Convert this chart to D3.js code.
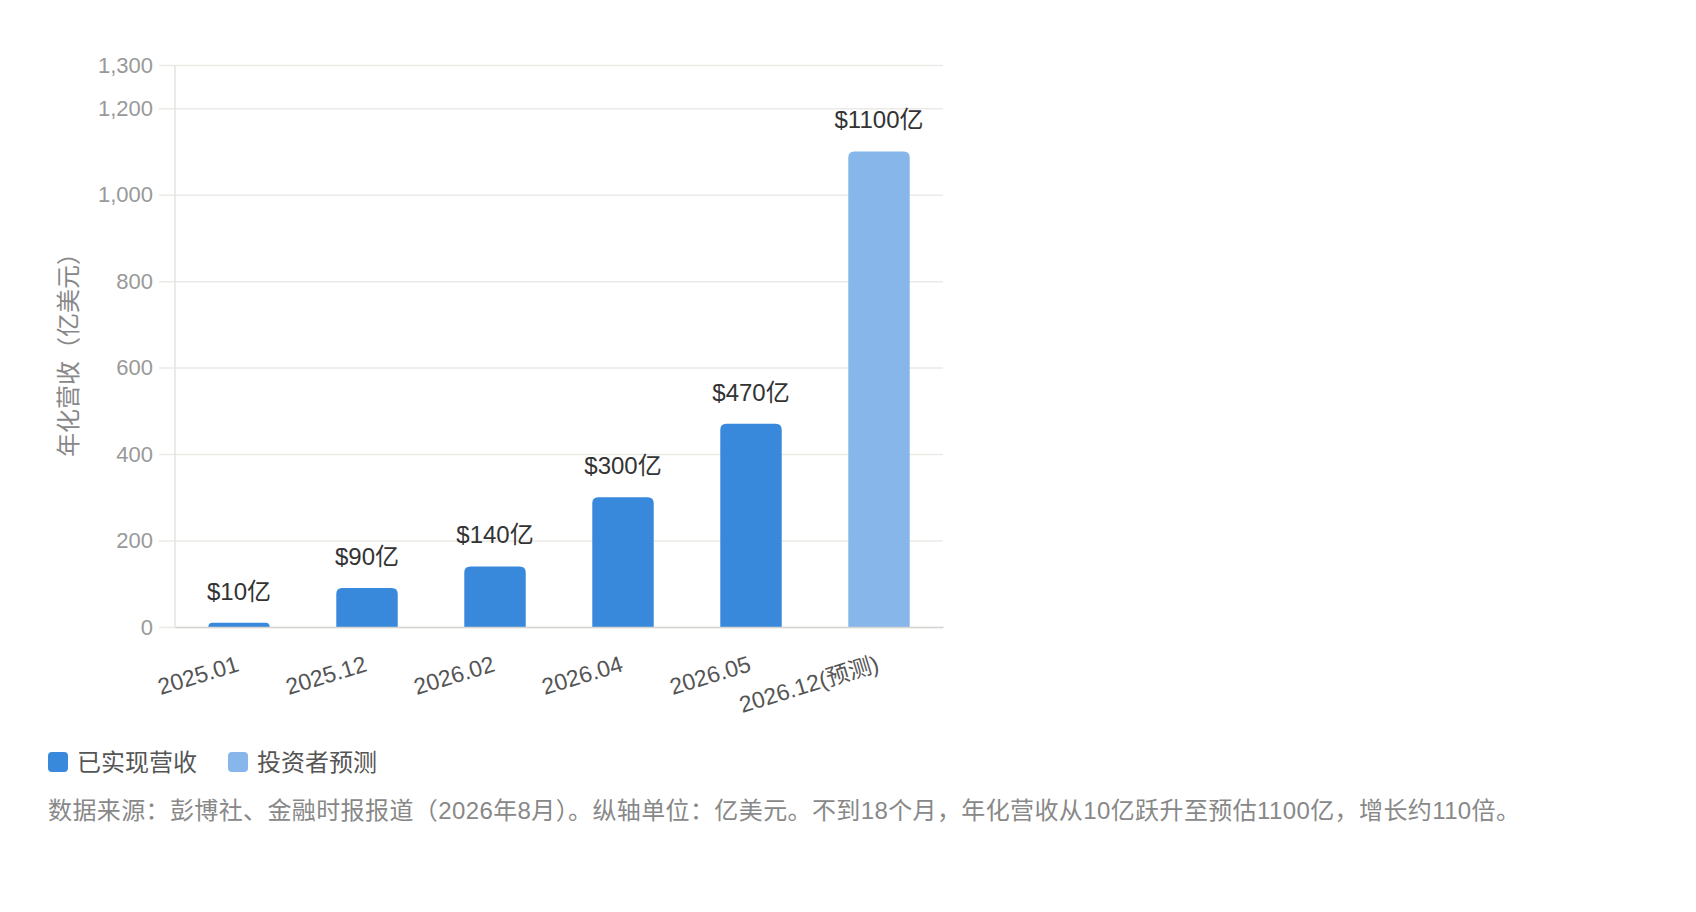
<!DOCTYPE html>
<html>
<head>
<meta charset="utf-8">
<script src="https://cdn.jsdelivr.net/npm/d3@7"></script>
<style>
  html, body { margin: 0; padding: 0; background: #fff; }
  svg text { font-family: "Liberation Sans", Arial, "Noto Sans CJK SC", sans-serif; }
  .cjk { font-family: "Liberation Sans", "Noto Sans CJK SC", sans-serif; }
</style>
</head>
<body>
<svg id="chart" width="1696" height="912"></svg>
<script>
    "use strict";

    // data
    var categories = ["2025.01", "2025.12", "2026.02", "2026.04", "2026.05", "2026.12(预测)"];
    var revenue = [10, 90, 140, 300, 470, 1100];
    var seriesOf = [0, 0, 0, 0, 0, 1];
    var seriesNames = ["已实现营收", "投资者预测"];
    var seriesColors = ["#3889dc", "#86b6ea"];
    var yTicks = [0, 200, 400, 600, 800, 1000, 1200, 1300];
    var yTitle = "年化营收（亿美元）";
    var note = "数据来源：彭博社、金融时报报道（2026年8月）。纵轴单位：亿美元。不到18个月，年化营收从10亿跃升至预估1100亿，增长约110倍。";

    var plotLeft = 175, plotRight = 943, plotTop = 65, plotBottom = 627;

    var svg = d3.select("#chart");

    var x = d3.scaleBand()
        .domain(categories)
        .range([plotLeft, plotRight])
        .paddingInner(0.52)
        .paddingOuter(0.26);

    var y = d3.scaleLinear()
        .domain([0, 1300])
        .range([plotBottom, plotTop]);

    // grid + y ticks (lines run from the tick stub at 159 to the right edge)
    var yAxis = svg.append("g")
        .attr("transform", "translate(" + plotRight + ",0)")
        .call(d3.axisLeft(y)
            .tickValues(yTicks)
            .tickSize(plotRight - plotLeft + 16)
            .tickPadding(6)
            .tickFormat(d3.format(",")));
    yAxis.select(".domain").remove();
    yAxis.selectAll(".tick line")
        .attr("stroke", "#ebeae6")
        .attr("stroke-width", 1.5);
    yAxis.selectAll(".tick text")
        .attr("fill", "#999")
        .style("font-size", "22px");

    // left axis line
    svg.append("line")
        .attr("x1", plotLeft).attr("x2", plotLeft)
        .attr("y1", plotTop).attr("y2", plotBottom)
        .attr("stroke", "#e4e3df")
        .attr("stroke-width", 1.5);

    // bars with rounded tops
    function barPath(x0, w, yTop, yBase, r) {
        r = Math.min(r, yBase - yTop, w / 2);
        return "M" + x0 + "," + yBase +
            "V" + (yTop + r) +
            "Q" + x0 + "," + yTop + " " + (x0 + r) + "," + yTop +
            "H" + (x0 + w - r) +
            "Q" + (x0 + w) + "," + yTop + " " + (x0 + w) + "," + (yTop + r) +
            "V" + yBase + "Z";
    }

    svg.append("g").selectAll("path")
        .data(revenue)
        .join("path")
        .attr("d", function(d, i) {
            return barPath(x(categories[i]), x.bandwidth(), y(d), y(0), 6);
        })
        .attr("fill", function(d, i) { return seriesColors[seriesOf[i]]; });

    // value labels
    svg.append("g").selectAll("text")
        .data(revenue)
        .join("text")
        .attr("class", "cjk")
        .attr("x", function(d, i) { return x(categories[i]) + x.bandwidth() / 2; })
        .attr("y", function(d) { return y(d) - 23; })
        .attr("text-anchor", "middle")
        .attr("fill", "#333")
        .style("font-size", "24px")
        .text(function(d) { return "$" + d + "亿"; });

    // x axis
    var xAxis = svg.append("g")
        .attr("transform", "translate(0," + plotBottom + ")")
        .call(d3.axisBottom(x).tickSize(0).tickSizeOuter(0).tickPadding(0));
    xAxis.select(".domain")
        .attr("stroke", "#d6d5d1")
        .attr("stroke-width", 1.5);
    xAxis.selectAll(".tick text")
        .attr("class", "cjk")
        .attr("fill", "#555")
        .style("font-size", "23px")
        .attr("text-anchor", "end")
        .attr("dominant-baseline", "central")
        .attr("dy", null)
        .attr("x", -1)
        .attr("y", 36)
        .attr("transform", "rotate(-17, -1, 36)");

    // y title
    svg.append("text")
        .attr("class", "cjk")
        .attr("transform", "translate(68," + ((plotTop + plotBottom) / 2 + 3) + ") rotate(-90)")
        .attr("text-anchor", "middle")
        .attr("dominant-baseline", "central")
        .attr("fill", "#888")
        .style("font-size", "24px")
        .text(yTitle);

    // legend
    var legendX = [48, 228];
    var legend = svg.append("g").selectAll("g")
        .data(seriesNames)
        .join("g")
        .attr("transform", function(d, i) { return "translate(" + legendX[i] + ",752)"; });
    legend.append("rect")
        .attr("width", 20).attr("height", 20).attr("rx", 4)
        .attr("fill", function(d, i) { return seriesColors[i]; });
    legend.append("text")
        .attr("class", "cjk")
        .attr("x", 29).attr("y", 10)
        .attr("dominant-baseline", "central")
        .attr("fill", "#555")
        .style("font-size", "24px")
        .text(function(d) { return d; });

    // footnote
    svg.append("text")
        .attr("class", "cjk")
        .attr("x", 48).attr("y", 810)
        .attr("dominant-baseline", "central")
        .attr("fill", "#888")
        .attr("textLength", 1472)
        .attr("lengthAdjust", "spacing")
        .style("font-size", "24px")
        .text(note);
</script>
</body>
</html>
